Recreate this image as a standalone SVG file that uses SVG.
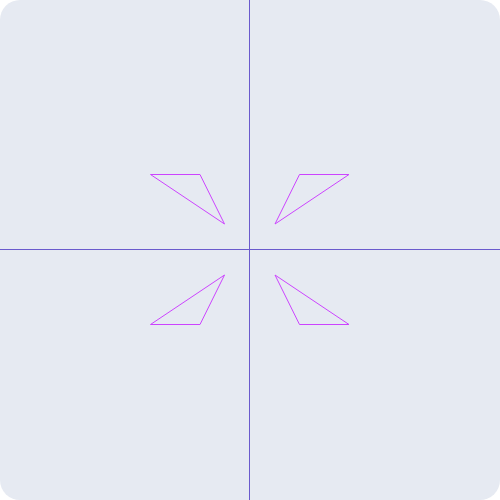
<svg xmlns="http://www.w3.org/2000/svg" width="500" height="500" viewBox="0 0 500 500">
<style>
.tri{fill:none;stroke:#cc44ff;stroke-width:1}
.axis{stroke:#6a5acd;stroke-width:1}
</style>
<rect x="0" y="0" width="500" height="500" rx="20" ry="20" fill="#e6eaf2"/>
<g id="axes">
<line class="axis" x1="249.5" y1="0" x2="249.5" y2="500"/>
<line class="axis" x1="0" y1="249.5" x2="500" y2="249.5"/>
</g>
<g id="tri-tl"><polygon class="tri" points="150.5,174.5 200,174.5 224.5,224"/></g>
<g id="tri-tr"><polygon class="tri" points="349,174.5 299.5,174.5 275,224"/></g>
<g id="tri-bl"><polygon class="tri" points="150.5,324.5 200,324.5 224.5,275"/></g>
<g id="tri-br"><polygon class="tri" points="349,324.5 299.5,324.5 275,275"/></g>
</svg>
